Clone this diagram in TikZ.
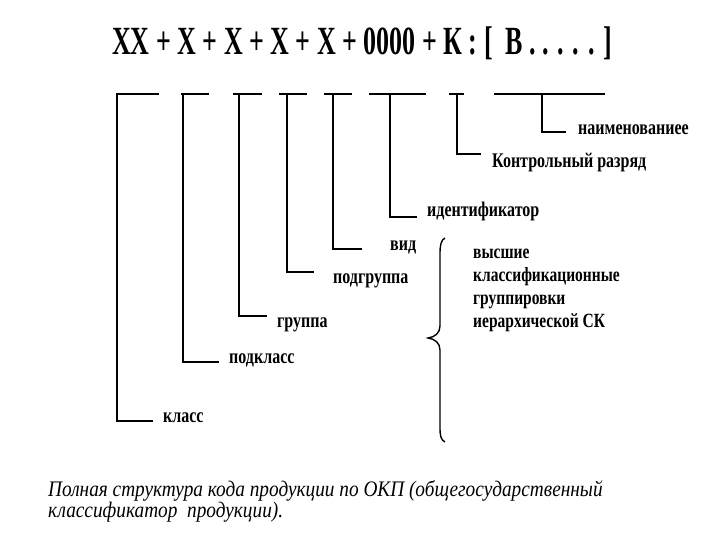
\documentclass[tikz,border=0pt]{standalone}
\usepackage{fontspec}
\setmainfont{Liberation Serif}[BoldFont={Liberation Serif Bold}, ItalicFont={Liberation Serif Italic}]
\usetikzlibrary{positioning, calc}
\newcommand{\tall}[2][1.3]{\scalebox{1}[#1]{#2}}

\begin{document}
\begin{tikzpicture}[x=1pt, y=-1pt,
    bar/.style={line width=1.6pt, black},
    lbl/.style={anchor=base west, inner sep=0pt, font=\fontsize{16}{18}\selectfont\bfseries},
  ]
    \useasboundingbox (0,0) rectangle (720,540);

    % Code line
    \node[anchor=base, inner sep=0pt, font=\fontsize{40}{44}\selectfont\bfseries] (code) at (362,55)
      {\scalebox{0.65}[1]{XX + X + X + X + X + 0000 + К : [ \ В . . . . . ]}};

    % Underlines
    \coordinate (u1a) at (116,94);  \coordinate (u1b) at (159,94);
    \coordinate (u2a) at (181,94);  \coordinate (u2b) at (209,94);
    \coordinate (u3a) at (233,94);  \coordinate (u3b) at (262,94);
    \coordinate (u4a) at (279,94);  \coordinate (u4b) at (307,94);
    \coordinate (u5a) at (324,94);  \coordinate (u5b) at (352,94);
    \coordinate (u6a) at (369,94);  \coordinate (u6b) at (426,94);
    \coordinate (u7a) at (449,94);  \coordinate (u7b) at (464,94);
    \coordinate (u8a) at (494,94);  \coordinate (u8b) at (605,94);
    \foreach \i in {1,...,8}
        \draw[bar] (u\i a) -- (u\i b);

    % Labels
    \node[lbl] (klass)   at (163,422) {\tall{класс}};
    \node[lbl] (podkl)   at (229,363) {\tall{подкласс}};
    \node[lbl] (gruppa)  at (277,327) {\tall{группа}};
    \node[lbl] (podgr)   at (333,283) {\tall{подгруппа}};
    \node[lbl] (vid)     at (390,250) {\tall{вид}};
    \node[lbl] (ident)   at (427,216) {\tall{идентификатор}};
    \node[lbl] (kontr)   at (492,168) {\tall{Контрольный разряд}};
    \node[lbl] (naim)    at (578,135) {\tall{наименованиее}};

    % Tick ends
    \coordinate (t1) at (153,421);
    \coordinate (t2) at (219,362);
    \coordinate (t3) at (267,316);
    \coordinate (t4) at (314,272);
    \coordinate (t5) at (362,249);
    \coordinate (t6) at (417,217);
    \coordinate (t7) at (481,154);
    \coordinate (t8) at (566,132);

    % Legs from the underlines
    \draw[bar] (117,94) |- (t1);
    \draw[bar] (183,94) |- (t2);
    \draw[bar] (239,94) |- (t3);
    \draw[bar] (287,94) |- (t4);
    \draw[bar] (333,94) |- (t5);
    \draw[bar] (390,94) |- (t6);
    \draw[bar] (457,94) |- (t7);
    \draw[bar] (542,94) |- (t8);

    % Brace and group text
    \draw[line width=1.4pt] (445,238) .. controls (441,240) and (440,245) .. (440,254)
        -- (440,326) .. controls (440,333) and (435,337) .. (428,338)
        .. controls (435,339) and (440,343) .. (440,350)
        -- (440,428) .. controls (440,436) and (441,440) .. (445,442);
    \node[anchor=north west, inner sep=0pt, align=left,
          font=\fontsize{15.5}{23}\selectfont\bfseries] (higher) at (473,248.5)
      {\tall{высшие}\\\tall{классификационные}\\\tall{группировки}\\\tall{иерархической СК}};

    % Caption
    \node[anchor=north west, inner sep=0pt, align=left,
          font=\fontsize{19.3}{21}\selectfont\itshape] (caption) at (48,480)
      {\tall[1.15]{Полная структура кода продукции по ОКП (общегосударственный}\\\tall[1.15]{классификатор \ продукции).}};
\end{tikzpicture}
\end{document}
